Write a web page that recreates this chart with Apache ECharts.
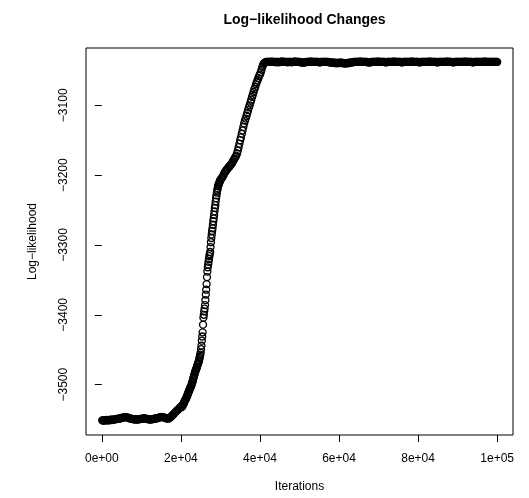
<!DOCTYPE html>
<html>
<head>
<meta charset="utf-8">
<script src="https://cdn.jsdelivr.net/npm/echarts@6/dist/echarts.min.js"></script>
<style>html,body{margin:0;padding:0;background:#fff}#c{width:529px;height:498px}</style>
</head>
<body>
<div id="c"></div>
<script>
// ---- data ----
const iterLow = [
100,250,500,750,1000,1250,1500,1750,2000,2250,
2500,2750,3000,3250,3500,3750,4000,4250,4500,4750,
5000,5250,5500,5750,6000,6250,6500,6750,7000,7250,
7500,7750,8000,8250,8500,8750,9000,9250,9500,9750,
10000,10250,10500,10750,11000,11250,11500,11750,12000,12250,
12500,12750,13000,13250,13500,13750,14000,14250,14500,14750,
15000,15250,15500,15750,16000,16250,16500,16750,17000,17250,
17500,17750,18000,18250,18500,18750,19000,19250,19500,19750];
const llLow = [
-3551,-3551,-3551.5,-3551,-3551,-3550.5,-3551,-3551,-3550.5,-3550,
-3550.5,-3550,-3550,-3549.5,-3549.5,-3549,-3549,-3548.5,-3548.5,-3548,
-3547.5,-3547,-3547,-3546.5,-3546.5,-3546.5,-3547,-3547.5,-3548,-3548.5,
-3549,-3549,-3549.5,-3549.5,-3549.5,-3550,-3549.5,-3549.5,-3549.5,-3549,
-3549,-3548.5,-3548.5,-3548,-3548.5,-3549,-3549,-3549.5,-3549.5,-3550,
-3549.5,-3549.5,-3549,-3549,-3548.5,-3548,-3548,-3547.5,-3547,-3546.5,
-3546.5,-3546,-3546.5,-3547,-3547.5,-3548,-3548,-3548.5,-3548,-3547,
-3546,-3544.5,-3543,-3541.5,-3540,-3538.5,-3537,-3536,-3534.5,-3533];

const iterRise = [20000,20100,20200,20300,20400,20500,20600,20700,20800,20900,21000,21100,21200,21300,21400,21500,21600,21700,21800,21900,22000,22100,22200,22300,22400,22500,22600,22700,22800,22900,23000,23100,23200,23300,23400,23500,23600,23700,23800,23900,24000,24100,24200,24300,24400,24500,24600,24700,24800,24900,25000,25100,25200,25300,25400,25500,25600,25700,25800,25900,26000,26100,26200,26300,26400,26500,26600,26700,26800,26900,27000,27100,27200,27300,27400,27500,27600,27700,27800,27900,28000,28100,28200,28300,28400,28500,28600,28700,28800,28900,29000,29100,29200,29300,29400,29500,29600,29700,29800,29900,30000];
const llRise = [-3532,-3531,-3532,-3530,-3531,-3529,-3528,-3527,-3526,-3524,-3523,-3522,-3521,-3520,-3519,-3517,-3516,-3514,-3513,-3511,-3510,-3508,-3507,-3506,-3504,-3503,-3502,-3500,-3498,-3496,-3495,-3492,-3490,-3488,-3486,-3484,-3482,-3480,-3479,-3477,-3476,-3474,-3472,-3470,-3469,-3467,-3465,-3462,-3460,-3457,-3454,-3449,-3444,-3437,-3431,-3425,-3414,-3404,-3400,-3395,-3391,-3386,-3379,-3371,-3364,-3356,-3346,-3338,-3332,-3328,-3324,-3320,-3316,-3313,-3310,-3303,-3296,-3290,-3285,-3280,-3276,-3271,-3266,-3262,-3257,-3252,-3247,-3243,-3238,-3233,-3229,-3225,-3222,-3219,-3216,-3214,-3213,-3211,-3210,-3208,-3207];

const iterUpper = [30200,30400,30600,30800,31000,31200,31400,31600,31800,32000,32200,32400,32600,32800,33000,33200,33400,33600,33800,34000,34200,34400,34600,34800,35000,35200,35400,35600,35800,36000,36200,36400,36600,36800,37000,37200,37400,37600,37800,38000,38200,38400,38600,38800,39000,39200,39400,39600,39800,40000,40200,40400,40600,40800,41000,41200,41400,41600,41800,42000];
const llUpper = [-3205,-3204,-3202,-3200,-3197,-3195,-3194,-3192,-3191,-3189,-3188,-3187,-3185,-3184,-3182,-3180,-3178,-3176,-3174,-3172,-3169,-3165,-3160,-3155,-3150,-3146,-3141,-3136,-3131,-3126,-3122,-3119,-3115,-3111,-3107,-3103,-3100,-3096,-3092,-3088,-3085,-3081,-3077,-3074,-3070,-3067,-3064,-3061,-3058,-3056,-3053,-3049,-3045,-3042,-3040,-3039,-3038.5,-3038,-3038,-3038];

const iterHigh = [
42250,42500,42750,43000,43250,43500,43750,44000,44250,44500,
44750,45000,45250,45500,45750,46000,46250,46500,46750,47000,
47250,47500,47750,48000,48250,48500,48750,49000,49250,49500,
49750,50000,50250,50500,50750,51000,51250,51500,51750,52000,
52250,52500,52750,53000,53250,53500,53750,54000,54250,54500,
54750,55000,55250,55500,55750,56000,56250,56500,56750,57000,
57250,57500,57750,58000,58250,58500,58750,59000,59250,59500,
59750,60000,60250,60500,60750,61000,61250,61500,61750,62000,
62250,62500,62750,63000,63250,63500,63750,64000,64250,64500,
64750,65000,65250,65500,65750,66000,66250,66500,66750,67000,
67250,67500,67750,68000,68250,68500,68750,69000,69250,69500,
69750,70000,70250,70500,70750,71000,71250,71500,71750,72000,
72250,72500,72750,73000,73250,73500,73750,74000,74250,74500,
74750,75000,75250,75500,75750,76000,76250,76500,76750,77000,
77250,77500,77750,78000,78250,78500,78750,79000,79250,79500,
79750,80000,80250,80500,80750,81000,81250,81500,81750,82000,
82250,82500,82750,83000,83250,83500,83750,84000,84250,84500,
84750,85000,85250,85500,85750,86000,86250,86500,86750,87000,
87250,87500,87750,88000,88250,88500,88750,89000,89250,89500,
89750,90000,90250,90500,90750,91000,91250,91500,91750,92000,
92250,92500,92750,93000,93250,93500,93750,94000,94250,94500,
94750,95000,95250,95500,95750,96000,96250,96500,96750,97000,
97250,97500,97750,98000,98250,98500,98750,99000,99250,99500,
99750,100000];
const llHigh = [
-3038,-3038,-3038,-3037.5,-3038,-3038,-3038,-3038.5,-3038,-3038,
-3038.5,-3038,-3038,-3037.5,-3037.5,-3038,-3038,-3038,-3038,-3038.5,
-3038,-3038,-3038,-3038.5,-3038,-3038,-3037.5,-3037.5,-3038,-3038,
-3038,-3038,-3038.5,-3038.5,-3039,-3039,-3038.5,-3038.5,-3038,-3038,
-3038,-3038,-3037.5,-3037.5,-3038,-3038,-3038,-3038,-3038,-3038,
-3038,-3038.5,-3038.5,-3038,-3038,-3038,-3038,-3038,-3038,-3038,
-3038,-3038.5,-3038.5,-3039,-3039,-3039,-3039,-3039.5,-3039.5,-3039.5,
-3039.5,-3039.5,-3039,-3039,-3039.5,-3039.5,-3040,-3040,-3040,-3040,
-3039.5,-3039.5,-3039,-3039,-3038.5,-3038.5,-3038,-3038,-3038,-3038,
-3038,-3038,-3037.5,-3037.5,-3038,-3038,-3038,-3038,-3038,-3038,
-3038.5,-3038.5,-3038.5,-3038.5,-3038,-3038,-3038,-3038,-3038,-3038,
-3037.5,-3037.5,-3038,-3038,-3038,-3038,-3038,-3038,-3038.5,-3038.5,
-3038,-3038,-3038,-3038,-3038,-3038,-3037.5,-3037.5,-3038,-3038,
-3038,-3038,-3038,-3038,-3038.5,-3038.5,-3038,-3038,-3038,-3038,
-3038,-3038,-3038,-3038,-3037.5,-3037.5,-3038,-3038,-3038,-3038,
-3038,-3038,-3038.5,-3038.5,-3038,-3038,-3038,-3038,-3038,-3038,
-3038,-3038,-3037.5,-3037.5,-3038,-3038,-3038,-3038,-3038,-3038,
-3038.5,-3038.5,-3038,-3038,-3038,-3038,-3038,-3038,-3038,-3038,
-3037.5,-3037.5,-3038,-3038,-3038,-3038,-3038.5,-3038.5,-3038,-3038,
-3038,-3038,-3038,-3038,-3038,-3038,-3038,-3038,-3037.5,-3037.5,
-3038,-3038,-3038,-3038,-3038,-3038,-3038.5,-3038.5,-3038,-3038,
-3038,-3038,-3038,-3038,-3038,-3038,-3038,-3038,-3037.5,-3037.5,
-3038,-3038,-3038,-3038,-3038,-3038,-3038,-3038,-3038,-3038,
-3038,-3038];

const xTickValues = [0,20000,40000,60000,80000,100000];
const xTickLabels = ['0e+00','2e+04','4e+04','6e+04','8e+04','1e+05'];
const yTickValues = [-3500,-3400,-3300,-3200,-3100];
const yTickLabels = ['\u22123500','\u22123400','\u22123300','\u22123200','\u22123100'];

const titleText = 'Log\u2212likelihood Changes';
const xName = 'Iterations';
const yName = 'Log\u2212likelihood';

// ---- build ----
const iters = iterLow.concat(iterRise, iterUpper, iterHigh);
const lls = llLow.concat(llRise, llUpper, llHigh);
const points = iters.map((x, i) => [x, lls[i]]);

const FONT = '"Liberation Sans", Arial, Helvetica, sans-serif';
const chart = echarts.init(document.getElementById('c'), null, {renderer: 'canvas'});
chart.setOption({
  animation: false,
  backgroundColor: '#fff',
  title: {
    text: titleText,
    left: 299.5,
    top: 8,
    textAlign: 'center',
    textStyle: {fontFamily: FONT, fontSize: 14, fontWeight: 'bold', color: '#000'}
  },
  grid: {left: 86, right: 16, top: 48, bottom: 59, show: true, borderColor: '#000', borderWidth: 1, backgroundColor: 'transparent'},
  xAxis: {
    type: 'value', min: -4000, max: 104000,
    name: xName, nameLocation: 'middle', nameGap: 46,
    nameTextStyle: {fontFamily: FONT, fontSize: 12, color: '#000'},
    axisLine: {show: false},
    splitLine: {show: false},
    axisTick: {show: true, customValues: xTickValues, length: 7, lineStyle: {color: '#000', width: 1}},
    axisLabel: {customValues: xTickValues, margin: 18, fontFamily: FONT, fontSize: 12, color: '#000',
      formatter: v => xTickLabels[xTickValues.indexOf(v)]}
  },
  yAxis: {
    type: 'value', min: -3572, max: -3018,
    name: yName, nameLocation: 'middle', nameGap: 47, nameRotate: 90,
    nameTextStyle: {fontFamily: FONT, fontSize: 12, color: '#000'},
    axisLine: {show: false},
    splitLine: {show: false},
    axisTick: {show: true, customValues: yTickValues, length: 7, lineStyle: {color: '#000', width: 1}},
    axisLabel: {customValues: yTickValues, margin: 16, rotate: 90, fontFamily: FONT, fontSize: 12, color: '#000',
      formatter: v => yTickLabels[yTickValues.indexOf(v)]}
  },
  series: [{
    type: 'scatter',
    data: points,
    symbol: 'circle',
    symbolSize: 7,
    itemStyle: {color: 'rgba(0,0,0,0)', borderColor: '#000', borderWidth: 1.3, opacity: 1},
    emphasis: {disabled: true},
    silent: true
  }]
});
</script>
</body>
</html>
